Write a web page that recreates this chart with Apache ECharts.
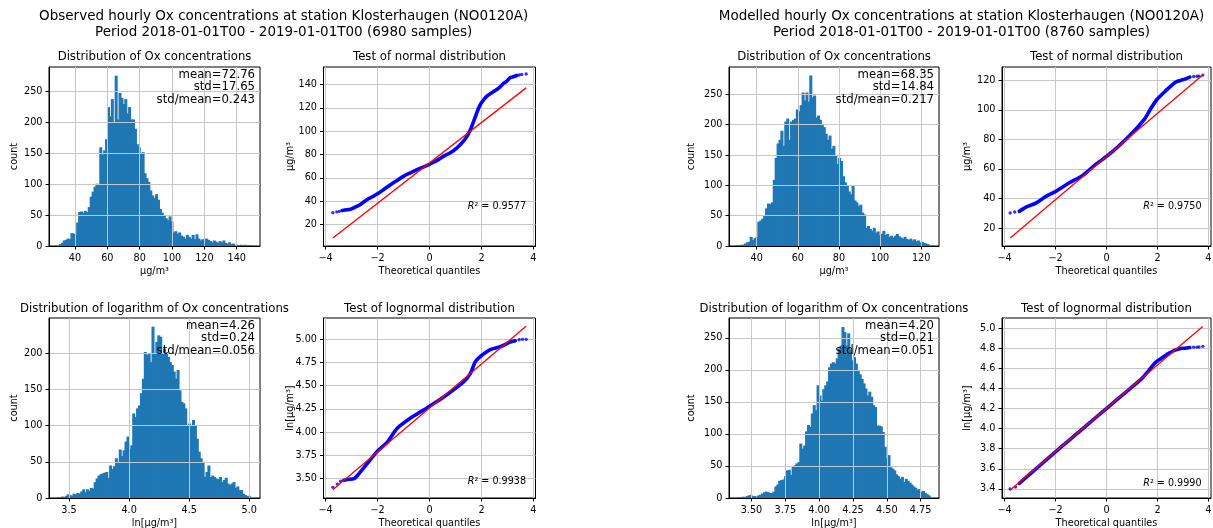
<!DOCTYPE html>
<html>
<head>
<meta charset="utf-8">
<script src="https://cdn.jsdelivr.net/npm/echarts@6/dist/echarts.min.js"></script>
<style>html,body{margin:0;padding:0;background:#fff}#c{width:1213px;height:528px}</style>
</head>
<body>
<div id="c"></div>
<script>
// ---------------- DATA ----------------
const obsTitle = 'Observed hourly Ox concentrations at station Klosterhaugen (NO0120A)\nPeriod 2018-01-01T00 - 2019-01-01T00 (6980 samples)';
const modTitle = 'Modelled hourly Ox concentrations at station Klosterhaugen (NO0120A)\nPeriod 2018-01-01T00 - 2019-01-01T00 (8760 samples)';

// histogram data ranges (first bin start, last bin end) and counts (100 bins)
const obsLinRange = [30, 149];
const obsLinCounts = [3,5,9,10,12,11,21,20,18,38,
  55,56,54,57,55,63,80,88,96,101,
  100,160,148,155,173,225,210,238,200,276,
  205,248,240,230,238,215,225,205,205,190,
  165,160,150,152,118,110,104,90,82,78,
  84,75,60,54,50,45,42,48,40,22,
  24,20,22,17,15,12,18,15,12,18,
  11,19,12,9,11,7,12,10,8,6,
  9,7,5,8,6,9,5,4,6,3,
  4,1,2,1,2,1,2,1,1,1];
const obsLogRange = [3.40, 5.004];
const obsLogCounts = [1,1,2,1,3,5,4,3,6,5,
  7,6,9,12,8,12,10,14,13,22,
  27,31,33,34,35,36,28,45,40,44,
  55,50,67,58,66,78,85,68,73,117,
  112,124,128,145,165,202,198,200,188,237,
  200,216,225,223,200,207,202,195,188,184,
  175,165,177,149,133,131,124,101,103,101,
  108,101,82,64,55,50,29,36,45,29,
  31,29,27,26,29,22,25,28,20,18,
  20,22,14,16,11,11,6,4,3,3];
const modLinRange = [30, 123.6];
const modLinCounts = [1,1,2,2,4,6,7,15,10,13,
  15,40,42,45,51,62,70,69,72,109,
  145,169,175,190,165,205,210,175,205,208,
  210,225,222,232,253,240,253,238,281,245,
  248,212,215,208,200,196,185,175,182,160,
  165,150,135,145,140,115,105,100,90,85,
  100,75,72,66,68,55,52,30,33,28,
  25,30,22,24,18,20,25,18,20,15,
  17,14,17,20,16,14,12,15,12,10,
  12,9,11,8,9,6,7,5,4,3];
const modLogRange = [3.40, 4.817];
const modLogCounts = [1,1,2,1,3,4,5,3,3,2,
  4,5,7,9,10,9,8,8,10,18,
  21,27,28,29,34,43,44,36,50,51,
  54,56,85,77,82,104,114,111,132,145,
  137,176,160,152,170,176,182,204,210,212,
  210,218,233,238,267,259,238,257,232,215,
  220,210,200,193,186,179,171,160,166,158,
  145,142,113,113,112,103,80,62,67,48,
  46,43,37,34,30,33,25,30,27,24,
  21,18,16,13,14,10,11,8,6,4];

// statistics text
const obsLinStats = ['mean=72.76', 'std=17.65', 'std/mean=0.243'];
const obsLogStats = ['mean=4.26', 'std=0.24', 'std/mean=0.056'];
const modLinStats = ['mean=68.35', 'std=14.84', 'std/mean=0.217'];
const modLogStats = ['mean=4.20', 'std=0.21', 'std/mean=0.051'];

// Q-Q curves: theoretical quantile vs ordered value (dense part), tails, fitted line
const obsNormQX = [-3.36,-3.04,-2.91,-2.78,-2.66,-2.4,-2.27,-1.95,-1.76,-1.5,-1.25,-0.99,-0.73,-0.48,-0.22,0.03,0.29,0.55,0.8,1.06,1.25,1.38,1.48,1.57,1.66,1.76,1.85,1.95,2.08,2.21,2.4,2.59,2.72,2.85,2.98,3.1,3.23,3.36];
const obsNormQY = [32,33,34.3,35.7,37.1,41.4,42.9,47,50,54,57.7,61.4,64.3,67,69.4,72,74.9,78.6,81.4,85.7,90,93.5,97,101,106,112,117.5,122.5,126.8,130,132.9,135.7,138,141,142.9,145.7,146.6,147.7];
const obsNormTail = [[-3.72,30],[-3.57,30.8],[-3.47,31.2],[3.45,148.2],[3.55,148.6],[3.72,149]];
const obsNormFit = [[-3.72,8.4],[3.72,137.1]];
const obsNormR2 = '0.9577';

const obsLogQX = [-3.3,-3.17,-2.9,-2.72,-2.4,-2.02,-1.63,-1.25,-0.74,-0.22,0.29,0.8,1.31,1.57,1.76,2.02,2.34,2.72,3.1,3.3];
const obsLogQY = [3.48,3.49,3.50,3.55,3.66,3.79,3.89,4.04,4.15,4.24,4.33,4.43,4.54,4.63,4.756,4.83,4.89,4.92,4.97,4.985];
const obsLogTail = [[-3.72,3.405],[-3.55,3.44],[-3.42,3.47],[3.45,4.995],[3.58,5.0],[3.72,5.0]];
const obsLogFit = [[-3.72,3.38],[3.72,5.14]];
const obsLogR2 = '0.9938';

const modNormQX = [-3.42,-3.16,-2.77,-2.38,-1.99,-1.47,-0.95,-0.43,0.09,0.61,1.13,1.52,1.71,1.97,2.3,2.69,2.9,3.08,3.27];
const modNormQY = [31.3,34.2,36.9,41.4,44.8,50.5,55.4,62.9,69.7,77.6,86.6,94.5,100.1,106.9,112.6,118.6,120,120.9,122.3];
const modNormTail = [[-3.78,30.2],[-3.6,30.8],[3.42,122.7],[3.55,122.8],[3.63,122.9],[3.78,123.6]];
const modNormFit = [[-3.777,13.2],[3.777,123.6]];
const modNormR2 = '0.9750';

const modLogQX = [-3.42,-3.22,-2.77,-2.25,-1.73,-1.21,-0.69,-0.17,0.35,0.87,1.39,1.65,1.91,2.1,2.3,2.5,2.69,2.9,3.08,3.27];
const modLogQY = [3.456,3.50,3.60,3.715,3.828,3.94,4.052,4.164,4.275,4.386,4.50,4.575,4.655,4.69,4.725,4.755,4.78,4.797,4.80,4.806];
const modLogTail = [[-3.78,3.40],[-3.57,3.42],[3.42,4.81],[3.55,4.81],[3.63,4.812],[3.78,4.818]];
const modLogFit = [[-3.777,3.39],[3.777,5.015]];
const modLogR2 = '0.9990';

// tick labels
const obsLinXTicks = [40,60,80,100,120,140];
const modLinXTicks = [40,60,80,100,120];
const obsLogXTicks = [3.5,4.0,4.5,5.0];
const modLogXTicks = [3.5,3.75,4.0,4.25,4.5,4.75];
const count250Ticks = [0,50,100,150,200,250];
const count200Ticks = [0,50,100,150,200];
const qqXTicks = [-4,-2,0,2,4];
const obsNormYTicks = [20,40,60,80,100,120,140];
const modNormYTicks = [20,40,60,80,100,120];
const obsLogYTicks = [3.5,3.75,4.0,4.25,4.5,4.75,5.0];
const modLogYTicks = [3.4,3.6,3.8,4.0,4.2,4.4,4.6,4.8,5.0];

// ---------------- LAYOUT ----------------
const FONT = 'DejaVu Sans';
const LEFTS = [49, 323.5, 729, 1002];
const WIDTHS = [211, 212, 210, 209];
const TOPS = [67, 318];
const HEIGHTS = [179, 180];
const YNAME_X = [14, 290.7, 691.7, 967];
const TICK_FS = 9.7, TITLE_FS = 11.7;

const fmt = d => v => v.toFixed(d);
const minus = v => String(v).replace('-', '\u2212');

const panels = [
  {kind:'hist', r:0, c:0, title:'Distribution of Ox concentrations', xName:'µg/m³', yName:'count',
   xr:[23.9,154.4], yr:[0,290], xt:obsLinXTicks, yt:count250Ticks, xf:fmt(0), yf:fmt(0),
   counts:obsLinCounts, range:obsLinRange, stats:obsLinStats},
  {kind:'qq', r:0, c:1, title:'Test of normal distribution', xName:'Theoretical quantiles', yName:'µg/m³',
   xr:[-4.08,4.08], yr:[1.5,155], xt:qqXTicks, yt:obsNormYTicks, xf:minus, yf:fmt(0),
   qx:obsNormQX, qy:obsNormQY, tail:obsNormTail, fit:obsNormFit, r2:obsNormR2, r2y:139.7},
  {kind:'hist', r:1, c:0, title:'Distribution of logarithm of Ox concentrations', xName:'ln[µg/m³]', yName:'count',
   xr:[3.333,5.089], yr:[0,249], xt:obsLogXTicks, yt:count200Ticks, xf:fmt(1), yf:fmt(0),
   counts:obsLogCounts, range:obsLogRange, stats:obsLogStats},
  {kind:'qq', r:1, c:1, title:'Test of lognormal distribution', xName:'Theoretical quantiles', yName:'ln[µg/m³]',
   xr:[-4.08,4.08], yr:[3.29,5.23], xt:qqXTicks, yt:obsLogYTicks, xf:minus, yf:fmt(2),
   qx:obsLogQX, qy:obsLogQY, tail:obsLogTail, fit:obsLogFit, r2:obsLogR2, r2y:163.5},
  {kind:'hist', r:0, c:2, title:'Distribution of Ox concentrations', xName:'µg/m³', yName:'count',
   xr:[26.5,128.7], yr:[0,295], xt:modLinXTicks, yt:count250Ticks, xf:fmt(0), yf:fmt(0),
   counts:modLinCounts, range:modLinRange, stats:modLinStats},
  {kind:'qq', r:0, c:3, title:'Test of normal distribution', xName:'Theoretical quantiles', yName:'µg/m³',
   xr:[-4.1,4.1], yr:[7.8,129.1], xt:qqXTicks, yt:modNormYTicks, xf:minus, yf:fmt(0),
   qx:modNormQX, qy:modNormQY, tail:modNormTail, fit:modNormFit, r2:modNormR2, r2y:139.7},
  {kind:'hist', r:1, c:2, title:'Distribution of logarithm of Ox concentrations', xName:'ln[µg/m³]', yName:'count',
   xr:[3.334,4.886], yr:[0,281], xt:modLogXTicks, yt:count250Ticks, xf:fmt(2), yf:fmt(0),
   counts:modLogCounts, range:modLogRange, stats:modLogStats},
  {kind:'qq', r:1, c:3, title:'Test of lognormal distribution', xName:'Theoretical quantiles', yName:'ln[µg/m³]',
   xr:[-4.1,4.1], yr:[3.31,5.10], xt:qqXTicks, yt:modLogYTicks, xf:minus, yf:fmt(1),
   qx:modLogQX, qy:modLogQY, tail:modLogTail, fit:modLogFit, r2:modLogR2, r2y:165}
];

const grids = [], xAxes = [], yAxes = [], series = [], graphics = [];

function axis(p, i, which) {
  const isX = which === 'x';
  const ticks = isX ? p.xt : p.yt;
  const rng = isX ? p.xr : p.yr;
  return {
    type: 'value', gridIndex: i, min: rng[0], max: rng[1],
    z: p.kind === 'hist' ? 5 : 0,
    axisLine: {show: true, onZero: false, lineStyle: {color: '#000', width: 1}},
    axisTick: {show: true, length: 3.5, inside: false, customValues: ticks, lineStyle: {color: '#000', width: 1}},
    axisLabel: {show: true, customValues: ticks, formatter: isX ? p.xf : p.yf, margin: isX ? 7 : 6.5,
      color: '#000', fontSize: TICK_FS, fontFamily: FONT},
    splitLine: {show: true, lineStyle: {color: '#c6c6c6', width: 1}},
    splitNumber: 5
  };
}

function txt(x, y, text, fs, align, valign, extra) {
  return Object.assign({
    type: 'text', x: x, y: y, z: 100,
    style: {text: text, fill: '#000', font: fs + 'px "' + FONT + '"',
      textAlign: align, textVerticalAlign: valign, align: align, verticalAlign: valign}
  }, extra || {});
}

panels.forEach((p, i) => {
  const left = LEFTS[p.c], width = WIDTHS[p.c], top = TOPS[p.r], height = HEIGHTS[p.r];
  grids.push({left: left, top: top, width: width, height: height, show: true,
    borderColor: '#000', borderWidth: 1, backgroundColor: 'transparent', containLabel: false, outerBoundsMode: 'none'});
  xAxes.push(axis(p, i, 'x'));
  yAxes.push(axis(p, i, 'y'));

  if (p.kind === 'hist') {
    const w = (p.range[1] - p.range[0]) / p.counts.length;
    const data = p.counts.map((cnt, k) => [p.range[0] + k * w, p.range[0] + (k + 1) * w, cnt]);
    series.push({
      type: 'custom', xAxisIndex: i, yAxisIndex: i, data: data, z: 2, silent: true, clip: true,
      encode: {x: [0, 1], y: 2},
      renderItem: function (params, api) {
        const a = api.coord([api.value(0), api.value(2)]);
        const b = api.coord([api.value(1), 0]);
        return {type: 'rect', shape: {x: a[0], y: a[1], width: b[0] - a[0] + 1.1, height: b[1] - a[1]},
          style: {fill: '#1f77b4'}};
      }
    });
    graphics.push(txt(left + width - 5, top + 2, p.stats.join('\n'), TITLE_FS, 'right', 'top',
      {style: {text: p.stats.join('\n'), fill: '#000', font: TITLE_FS + 'px "' + FONT + '"',
        textAlign: 'right', align: 'right', textVerticalAlign: 'top', verticalAlign: 'top', lineHeight: 12.3}}));
  } else {
    series.push({
      type: 'line', xAxisIndex: i, yAxisIndex: i, data: p.qx.map((x, k) => [x, p.qy[k]]),
      symbol: 'none', smooth: 0.25, lineStyle: {color: '#0000ff', width: 3.6, cap: 'round', join: 'round'}, z: 2, silent: true
    });
    series.push({
      type: 'scatter', xAxisIndex: i, yAxisIndex: i, data: p.tail,
      symbol: 'circle', symbolSize: 3.4, itemStyle: {color: '#0000ff'}, z: 2, silent: true
    });
    series.push({
      type: 'line', xAxisIndex: i, yAxisIndex: i, data: p.fit,
      symbol: 'none', lineStyle: {color: '#ff0000', width: 1.3}, z: 3, silent: true
    });
    graphics.push({
      type: 'text', x: left + width - 9.5, y: top + p.r2y, z: 100,
      style: {
        text: '{i|R}{n|² = ' + p.r2 + '}',
        textAlign: 'right', align: 'right', textVerticalAlign: 'middle', verticalAlign: 'middle',
        rich: {
          i: {fontFamily: FONT, fontSize: 9.6, fontStyle: 'italic', fill: '#000', color: '#000'},
          n: {fontFamily: FONT, fontSize: 9.6, fill: '#000', color: '#000'}
        }
      }
    });
  }

  // subplot title
  graphics.push(txt(left + width / 2, p.r === 0 ? 57 : 309, p.title, TITLE_FS, 'center', 'middle'));
  // x-axis name
  graphics.push(txt(left + width / 2, top + height + 25, p.xName, TICK_FS, 'center', 'middle'));
  // y-axis name
  graphics.push(txt(YNAME_X[p.c], top + height / 2, p.yName, TICK_FS, 'center', 'middle',
    {rotation: Math.PI / 2}));
});

// figure titles
graphics.push(txt(283.7, 24.5, obsTitle, 13.5, 'center', 'middle',
  {style: {text: obsTitle, fill: '#000', font: '13.5px "' + FONT + '"', textAlign: 'center', align: 'center',
    textVerticalAlign: 'middle', verticalAlign: 'middle', lineHeight: 15.6}}));
graphics.push(txt(961.5, 24.5, modTitle, 13.5, 'center', 'middle',
  {style: {text: modTitle, fill: '#000', font: '13.5px "' + FONT + '"', textAlign: 'center', align: 'center',
    textVerticalAlign: 'middle', verticalAlign: 'middle', lineHeight: 15.6}}));

const chart = echarts.init(document.getElementById('c'), null, {renderer: 'canvas'});
chart.setOption({
  animation: false,
  backgroundColor: '#fff',
  textStyle: {fontFamily: FONT},
  grid: grids, xAxis: xAxes, yAxis: yAxes, series: series,
  graphic: {elements: graphics}
});
</script>
</body>
</html>
